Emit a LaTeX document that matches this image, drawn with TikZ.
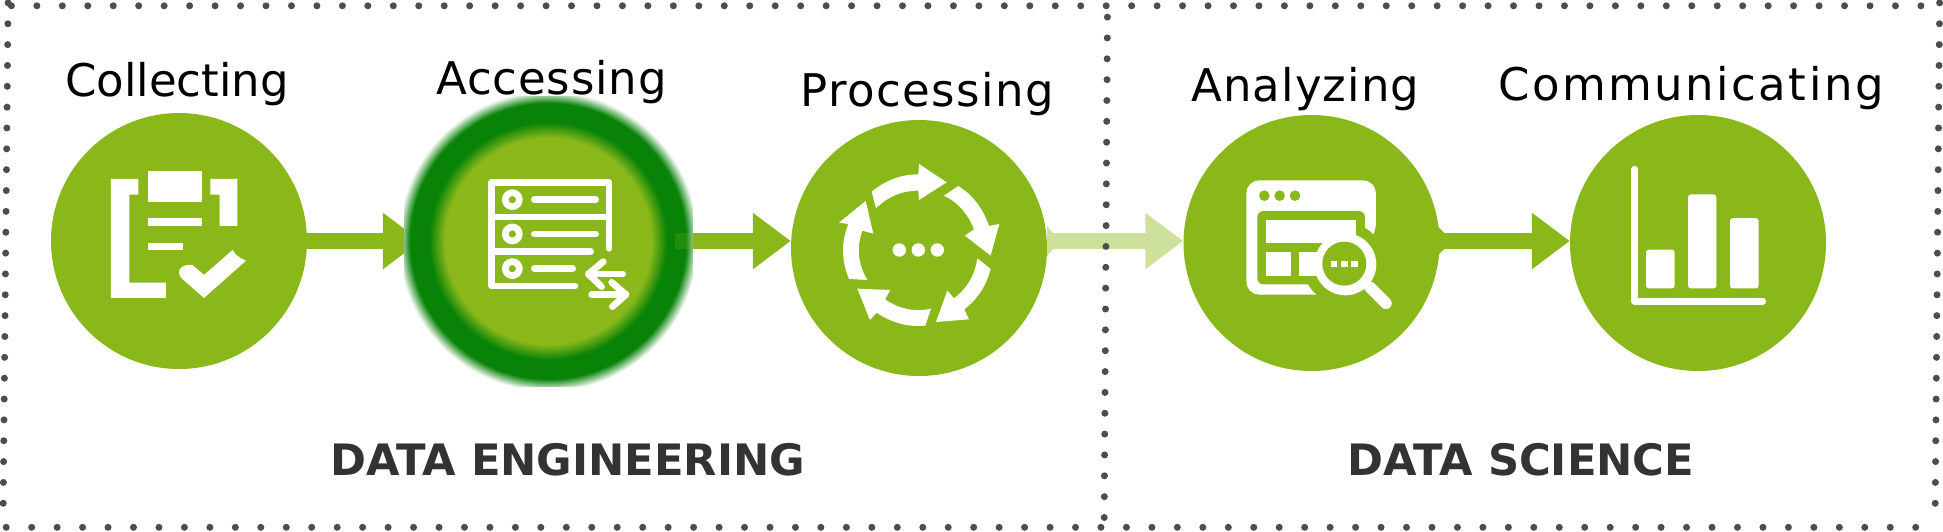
\documentclass[tikz,border=0pt]{standalone}
\usepackage{fontspec}
\setmainfont{DejaVu Sans}
\usetikzlibrary{arrows.meta}

\definecolor{leaf}{HTML}{8AB81A}
\definecolor{paleleaf}{HTML}{CDE09C}
\definecolor{ringgreen}{HTML}{088308}
\definecolor{dotgrey}{HTML}{4D4D4D}
\definecolor{titlegrey}{HTML}{333333}
\pgfdeclareradialshading{accessglow}{\pgfpointorigin}{color(0bp)=(leaf); color(17.2bp)=(leaf); color(19.8bp)=(ringgreen); color(23bp)=(ringgreen); color(25bp)=(white); color(50bp)=(white)}

\begin{document}
\begin{tikzpicture}[x=1pt,y=-1pt,>={Triangle[length=38pt,width=54pt]}]
  \tikzstyle{stage}=[circle,fill=leaf,inner sep=0pt,minimum size=256pt]
  \tikzstyle{stagelabel}=[anchor=base west,inner sep=0pt,text=black,font=\fontsize{45}{54}\selectfont]
  \tikzstyle{titlelabel}=[anchor=base west,inner sep=0pt,text=titlegrey,font=\fontsize{43.3}{52}\selectfont\bfseries]
  \tikzstyle{flow}=[->,line width=16pt,leaf]
  \tikzstyle{dotrow}=[draw=dotgrey,line width=7pt,line cap=round,dash pattern=on 0pt off 25.46pt]
  \tikzstyle{dotcol}=[draw=dotgrey,line width=7pt,line cap=round,dash pattern=on 0pt off 20.85pt]
  \tikzstyle{iconfill}=[fill=white,draw=none]
  \tikzstyle{iconline}=[draw=white,line width=6.7pt,line cap=round,line join=round]

  \useasboundingbox (0,0) rectangle (1943,531);

  \node[stage] (collecting)    at (179,241)    {};
  \node[stage] (processing)    at (919,248)    {};
  \node[stage] (analyzing)     at (1311.5,243) {};
  \node[stage] (communicating) at (1698,243)   {};
  \node[circle,inner sep=0pt,minimum size=254pt] (accessing) at (548,241) {};

  \draw[flow] (collecting) -- (accessing.west |- collecting);

  \node[rectangle,fill=white,inner sep=0pt,minimum width=288pt,minimum height=290pt,
    path picture={\fill[shading=accessglow] (accessing.center) circle (150pt);}] (accessglow) at (548.5,241) {};

  \draw[line width=16pt,leaf,opacity=.22] (accessing.east) -- (accessglow.east);
  \draw[flow] (accessglow.east) -- (processing.west |- accessing);
  \draw[flow,paleleaf] (processing.east |- accessing) -- (analyzing.west |- accessing);
  \fill[paleleaf] (1047,226) -- (1053,233) -- (1053,249) -- (1047,256) -- cycle;
  \draw[flow] (analyzing.east |- accessing) -- (communicating.west |- accessing);
  \fill[leaf] (1438,226.7) -- (1444,232.7) -- (1444,249.3) -- (1438,255) -- cycle;

  % dotted frame
  \coordinate (topleft)  at (11.4,5.8);
  \coordinate (topright) at (1925,5.8);
  \coordinate (lefttop)  at (8.1,2.9);
  \coordinate (leftbot)  at (3,524);
  \coordinate (righttop) at (1939.6,2.9);
  \coordinate (rightbot) at (1935,524);
  \coordinate (botleft)  at (6.2,527.3);
  \coordinate (botright) at (1918,527.3);
  \coordinate (midtop)   at (1107.4,17.1);
  \coordinate (midbot)   at (1104.2,518);
  \path[dotrow] (topleft) -- (topright);
  \path[dotrow] (botleft) -- (botright);
  \path[dotcol] (lefttop) -- (leftbot);
  \path[dotcol] (righttop) -- (rightbot);
  \path[dotcol] (midtop) -- (midbot);

  \node[stagelabel] (collectingtext) at (65,96) {Collecting};
  \node[stagelabel,font=\fontsize{45}{54}\selectfont\addfontfeature{LetterSpace=1.9}] (accessingtext) at (436,94.5) {Accessing};
  \node[stagelabel,font=\fontsize{45}{54}\selectfont\addfontfeature{LetterSpace=3.4}] (processingtext) at (800,106) {Processing};
  \node[stagelabel,font=\fontsize{45}{54}\selectfont\addfontfeature{LetterSpace=2.5}] (analyzingtext) at (1191,101) {Analyzing};
  \node[stagelabel,font=\fontsize{45}{54}\selectfont\addfontfeature{LetterSpace=5.5}] (communicatingtext) at (1498,100) {Communicating};
  \node[titlelabel] (engineeringtext) at (330,475.5) {DATA ENGINEERING};
  \node[titlelabel] (sciencetext) at (1347,475.5) {DATA SCIENCE};

  % clipboard with a tick
  \begin{scope}[shift={(0,0)},x=.3333pt,y=-.3386pt]
    \fill[iconfill] (333,528) -- (415,528) -- (415,575) -- (388,575) -- (388,835) -- (498,835) -- (498,880) -- (333,880) -- cycle;
    \fill[iconfill] (443,505) rectangle (606,598);
    \fill[iconfill] (631,528) -- (712,528) -- (712,667) -- (659,667) -- (659,575) -- (631,575) -- cycle;
    \fill[iconfill] (443,645) rectangle (606,667);
    \fill[iconfill] (443,717) rectangle (550,738);
    \fill[iconfill] (698,738) .. controls (705,752) and (720,763) .. (738,770) -- (612,880) -- (545,822) .. controls (525,800) and (545,778) .. (578,783) -- (612,812) -- cycle;
  \end{scope}

  % server list
  \begin{scope}[shift={(400,70)},x=.3333pt,y=-.3333pt]
    \draw[iconline] (627,535) -- (627,337) -- (275,337) -- (275,648) -- (525,648);
    \draw[iconline] (275,441) -- (627,441);
    \draw[iconline] (275,545) -- (572,545);
    \foreach \rowy in {389,492,596} {
      \draw[iconline] (337,\rowy) circle (7pt);
    }
    \draw[iconline] (403,389) -- (587,389);
    \draw[iconline] (403,492) -- (587,492);
    \draw[iconline] (403,596) -- (518,596);
    \draw[iconline] (668,612) -- (565,612);
    \draw[iconline] (610,575) -- (565,612) -- (605,650);
    \draw[iconline] (575,674) -- (678,674);
    \draw[iconline] (635,637) -- (678,674) -- (637,710);
  \end{scope}

  % cycle of arrows
  \begin{scope}[shift={(780,70)},x=.3333pt,y=-.3333pt]
    \fill[iconfill] (275,365) .. controls (318,330) and (365,313) .. (415,313) -- (417,282) -- (500,337) -- (417,390) -- (415,362) .. controls (365,362) and (323,380) .. (288,415) -- cycle;
    \fill[iconfill] (492,377) -- (535,348) .. controls (578,375) and (609,415) .. (627,468) -- (658,462) -- (632,557) -- (555,497) -- (582,478) .. controls (564,431) and (534,397) .. cycle;
    \fill[iconfill] (592,565) -- (632,597) .. controls (619,647) and (593,687) .. (553,718) -- (567,748) -- (468,756) -- (502,662) -- (522,685) .. controls (561,656) and (585,616) .. cycle;
    \fill[iconfill] (453,716) -- (436,767) .. controls (385,772) and (336,759) .. (290,728) -- (270,750) -- (232,656) -- (331,660) -- (315,688) .. controls (358,717) and (404,727) .. cycle;
    \fill[iconfill] (262,630) -- (207,627) .. controls (184,572) and (183,517) .. (205,462) -- (177,458) -- (257,393) -- (280,491) -- (247,482) .. controls (229,533) and (234,583) .. cycle;
    \foreach \dotx in {358,415,472} {
      \fill[iconfill] (\dotx,540) circle (6.7pt);
    }
  \end{scope}

  % browser window with a magnifier
  \begin{scope}[shift={(1170,90)},x=.3333pt,y=-.3333pt]
    \fill[iconfill,rounded corners=13pt] (229,271) -- (618,271) -- (618,437) [sharp corners] -- (438,614) [rounded corners=13pt] -- (229,614) -- cycle;
    \fill[leaf,rounded corners=6pt] (262,363) -- (585,363) -- (585,583) -- (262,583) -- cycle;
    \fill[leaf] (522,521) circle (41.5pt);
    \fill[iconfill] (288,391) rectangle (557,458);
    \fill[iconfill] (288,486) rectangle (363,557);
    \fill[iconfill] (387,486) rectangle (470,557);
    \foreach \dotx in {283,329,375} {
      \fill[leaf] (\dotx,317) circle (5.3pt);
    }
    \fill[iconfill] (526,523) circle (31pt);
    \fill[leaf] (523,521) circle (22pt);
    \fill[iconfill] (483,512) rectangle (501,532);
    \fill[iconfill] (513,512) rectangle (533,532);
    \fill[iconfill] (544,512) rectangle (563,532);
    \draw[iconline,line width=11.5pt] (600,592) -- (648,640);
  \end{scope}

  % bar chart
  \begin{scope}[shift={(1520,0)},x=.3333pt,y=-.3386pt]
    \draw[iconline,line width=7pt] (344,500) -- (344,889) -- (728,889);
    \fill[iconfill,rounded corners=3pt] (378,737) rectangle (464,852);
    \fill[iconfill,rounded corners=3pt] (504,574) rectangle (589,852);
    \fill[iconfill,rounded corners=3pt] (630,644) rectangle (716,852);
  \end{scope}
\end{tikzpicture}
\end{document}
